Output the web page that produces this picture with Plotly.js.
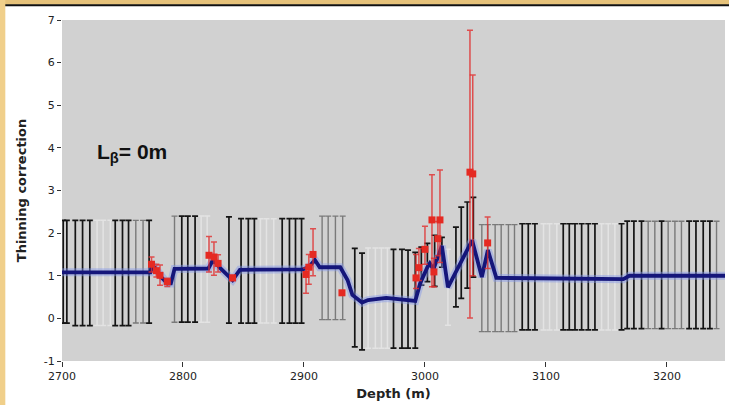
<!DOCTYPE html>
<html>
<head>
<meta charset="utf-8">
<script src="https://cdn.plot.ly/plotly-3.0.1.min.js"></script>
<style>html,body{margin:0;padding:0;background:#fff;}#chart{width:729px;height:405px;}</style>
</head>
<body>
<div id="chart"></div>
<script>
// Thinning correction model (blue line)
const lineDepth = [2700,2773,2775,2781,2787,2790,2793,2821,2825,2830,2841,2847,2899,2904,2909,2913,2930,2936,2940,2948,2953,2968,2992,2996,3002,3004,3007,3014,3019,3030,3039,3047,3052,3059,3145,3164,3169,3248];
const lineValue = [1.08,1.08,1.25,1.0,0.82,0.82,1.16,1.17,1.38,1.2,0.9,1.14,1.15,1.2,1.37,1.2,1.2,0.9,0.55,0.37,0.43,0.48,0.41,0.82,1.2,1.29,1.15,1.7,0.73,1.35,1.83,0.97,1.6,0.95,0.94,0.92,1.0,1.0];

// Red measured points with asymmetric errors
const redDepth = [2774,2778,2781,2787,2821.5,2825.6,2829,2841,2901.7,2904,2907.5,2931.4,2992.6,2995,3000,3005.8,3007.4,3010.7,3012.4,3037.2,3039.5,3051.8];
const redValue = [1.27,1.12,1.01,0.86,1.48,1.44,1.29,0.95,1.03,1.2,1.5,0.6,0.95,1.19,1.62,2.31,1.09,1.87,2.31,3.43,3.39,1.77];
const redErrPlus = [0.17,0.15,0.24,0.08,0.44,0.35,0.2,0.06,0.15,0.3,0.6,0.03,0.55,0.45,0.54,1.06,0.32,0.4,1.17,3.33,2.32,0.61];
const redErrMinus = [0.18,0.15,0.23,0.11,0.39,0.43,0.2,0.06,0.44,0.4,0.5,0.03,0.25,0.3,0.35,1.57,0.35,0.4,1.0,3.42,2.39,0.6];

// Uncertainty ranges (black bars)
const darkBarDepth = [2701,2704,2711,2717,2723,2744,2750,2755,2772,2799,2804,2810,2838,2848,2854,2859,2882,2888,2893,2898,2942,2948,2974,2981,2986,2992,2997,3002,3008,3014,3025.6,3030,3035,3040,3080.4,3085.4,3090.9,3114.3,3119.3,3124,3129.5,3135,3140.5,3162.5,3167.2,3172.7,3179,3195.6,3218.4,3224,3230,3235.5];
const darkBarLow = [-0.11,-0.11,-0.17,-0.17,-0.17,-0.17,-0.17,-0.17,-0.11,-0.09,-0.09,-0.09,-0.11,-0.11,-0.11,-0.11,-0.11,-0.11,-0.11,-0.11,-0.67,-0.74,-0.7,-0.7,-0.7,-0.7,0.78,0.86,0.75,1.2,0.27,0.47,0.71,0.97,-0.27,-0.27,-0.27,-0.27,-0.27,-0.27,-0.27,-0.27,-0.27,-0.27,-0.24,-0.24,-0.24,-0.24,-0.24,-0.24,-0.24,-0.24];
const darkBarHigh = [2.3,2.3,2.3,2.3,2.3,2.3,2.3,2.3,2.3,2.4,2.4,2.4,2.38,2.34,2.34,2.34,2.34,2.34,2.34,2.34,1.64,1.53,1.62,1.62,1.6,1.55,1.67,1.76,1.95,1.9,2.14,2.61,2.73,2.84,2.22,2.22,2.22,2.22,2.22,2.22,2.22,2.22,2.22,2.22,2.28,2.28,2.28,2.28,2.28,2.28,2.28,2.28];

const grayBarDepth = [2761,2767,2793,2915,2920,2926,2932,3047,3052,3058,3063,3069,3074,3184.5,3190,3201,3206.6,3212,3241];
const grayBarLow = [-0.11,-0.11,-0.09,-0.03,-0.03,-0.03,-0.03,-0.31,-0.31,-0.31,-0.31,-0.31,-0.31,-0.24,-0.24,-0.24,-0.24,-0.24,-0.24];
const grayBarHigh = [2.3,2.3,2.4,2.4,2.4,2.4,2.4,2.2,2.2,2.2,2.2,2.2,2.2,2.28,2.28,2.28,2.28,2.28,2.28];

const lightBarDepth = [2729,2734,2740,2815,2820,2864,2869,2875,2953,2959,2964,2969,3019,3098,3103,3109,3146,3151.5,3157];
const lightBarLow = [-0.17,-0.17,-0.17,-0.09,-0.09,-0.11,-0.11,-0.11,-0.7,-0.7,-0.7,-0.7,-0.16,-0.27,-0.27,-0.27,-0.27,-0.27,-0.27];
const lightBarHigh = [2.3,2.3,2.3,2.4,2.4,2.34,2.34,2.34,1.65,1.65,1.65,1.65,1.62,2.22,2.22,2.22,2.22,2.22,2.22];

const xTicks = [2700,2800,2900,3000,3100,3200];
const yTicks = [-1,0,1,2,3,4,5,6,7];

function barTrace(depth, low, high, color, thick) {
  return {
    x: depth, y: low, type: 'scatter', mode: 'markers',
    marker: {size: 1, color: 'rgba(0,0,0,0)'},
    error_y: {type: 'data', symmetric: false,
      array: high.map((h, i) => h - low[i]),
      arrayminus: low.map(() => 0),
      color: color, thickness: thick, width: 3},
    hoverinfo: 'skip', showlegend: false
  };
}

const traces = [
  barTrace(lightBarDepth, lightBarLow, lightBarHigh, '#e3e3e3', 1.5),
  barTrace(grayBarDepth, grayBarLow, grayBarHigh, '#7a7a7a', 1.4),
  barTrace(darkBarDepth, darkBarLow, darkBarHigh, '#141414', 1.7),
  {x: lineDepth, y: lineValue, type: 'scatter', mode: 'lines',
   line: {color: 'rgba(130,150,235,0.45)', width: 8}, hoverinfo: 'skip', showlegend: false},
  {x: lineDepth, y: lineValue, type: 'scatter', mode: 'lines',
   line: {color: '#15167a', width: 3.8}, showlegend: false},
  {x: redDepth, y: redValue, type: 'scatter', mode: 'markers',
   marker: {symbol: 'square', size: 7, color: '#e52a22'},
   error_y: {type: 'data', symmetric: false, array: redErrPlus, arrayminus: redErrMinus,
     color: 'rgba(225,45,45,0.8)', thickness: 1.5, width: 3},
   showlegend: false}
];

const layout = {
  width: 729, height: 405,
  margin: {l: 62, r: 4, t: 20, b: 44},
  paper_bgcolor: '#ffffff',
  plot_bgcolor: '#d1d1d1',
  font: {family: 'DejaVu Sans, sans-serif', size: 11, color: '#222'},
  xaxis: {
    range: [2700, 3248], tickvals: xTicks, ticktext: xTicks.map(String),
    ticks: 'outside', ticklen: 5, tickcolor: '#333', showgrid: false, zeroline: false,
    showline: false, tickfont: {size: 11, color: '#222'},
    title: {text: '<b>Depth (m)</b>', font: {size: 13, color: '#222'}, standoff: 6}
  },
  yaxis: {
    range: [-1, 7], tickvals: yTicks, ticktext: yTicks.map(String),
    ticks: 'outside', ticklen: 4, tickcolor: '#333', showgrid: false, zeroline: false,
    showline: false, tickfont: {size: 11, color: '#222'},
    title: {text: '<b>Thinning correction</b>', font: {size: 13, color: '#222'}, standoff: 14}
  },
  annotations: [{
    xref: 'paper', yref: 'paper', x: 0.05, y: 0.61, xanchor: 'left', yanchor: 'middle',
    text: '<b>L<sub>β</sub>= 0m</b>', showarrow: false,
    font: {family: 'Liberation Sans, Arial, sans-serif', size: 21, color: '#111'}
  }],
  shapes: [
    {type: 'rect', xref: 'paper', yref: 'paper', x0: -0.09, x1: 1.01, y0: 1.045, y1: 1.08,
     fillcolor: '#e6c27a', line: {width: 0}, layer: 'above'},
    {type: 'line', xref: 'paper', yref: 'paper', x0: -0.09, x1: 1.01, y0: 1.043, y1: 1.043,
     line: {color: '#111', width: 2}, layer: 'above'},
    {type: 'rect', xref: 'paper', yref: 'paper', x0: -0.0935, x1: -0.0855, y0: -0.14, y1: 1.08,
     fillcolor: '#f0cf8a', line: {width: 0}, layer: 'above'}
  ]
};

Plotly.newPlot('chart', traces, layout, {displayModeBar: false, staticPlot: true});
</script>
</body>
</html>
